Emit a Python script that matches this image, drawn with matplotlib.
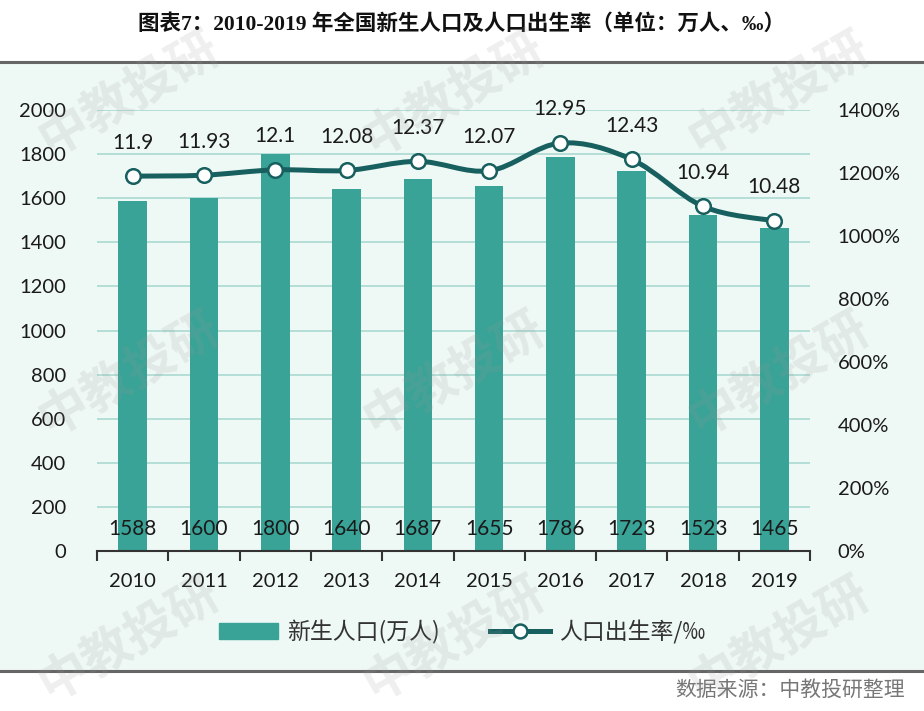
import matplotlib
matplotlib.use("Agg")
from matplotlib import pyplot as plt
from matplotlib import patches
from matplotlib.path import Path
from matplotlib.ticker import FuncFormatter, FixedLocator
import numpy as np

years = ["2010", "2011", "2012", "2013", "2014", "2015", "2016", "2017", "2018", "2019"]
births = [1588, 1600, 1800, 1640, 1687, 1655, 1786, 1723, 1523, 1465]
birth_rate = [11.9, 11.93, 12.1, 12.08, 12.37, 12.07, 12.95, 12.43, 10.94, 10.48]
rate_labels = ["11.9", "11.93", "12.1", "12.08", "12.37", "12.07", "12.95", "12.43", "10.94", "10.48"]

BAR = "#38a396"
LINE = "#17605f"
GRID = "#a9d9d1"
BG = "#eef8f4"
TXT = "#1a1a1a"
NUM = ["Lato", "Noto Sans CJK SC", "DejaVu Sans"]
CJK = ["Noto Sans CJK SC", "DejaVu Sans"]


def smooth_path(xs, ys):
    # catmull-rom style bezier through the points (like excel's smoothed line)
    pts = list(zip(xs, ys))
    verts = [pts[0]]
    codes = [Path.MOVETO]
    n = len(pts)
    for i in range(n - 1):
        p0 = pts[i - 1] if i > 0 else pts[i]
        p1 = pts[i]
        p2 = pts[i + 1]
        p3 = pts[i + 2] if i + 2 < n else pts[i + 1]
        c1 = (p1[0] + (p2[0] - p0[0]) / 6, p1[1] + (p2[1] - p0[1]) / 6)
        c2 = (p2[0] - (p3[0] - p1[0]) / 6, p2[1] - (p3[1] - p1[1]) / 6)
        verts += [c1, c2, p2]
        codes += [Path.CURVE4] * 3
    return Path(verts, codes)


fig = plt.figure(figsize=(9.24, 7.11), dpi=100)
fig.patch.set_facecolor("white")

# panel behind the chart
panel = patches.Rectangle((0, 40 / 711), 1, 609 / 711, transform=fig.transFigure,
                          facecolor=BG, edgecolor="none", zorder=-10)
fig.patches.append(panel)
for yy in (40 / 711, 649 / 711):
    fig.add_artist(plt.Line2D([0, 1], [yy, yy], transform=fig.transFigure,
                              color="#666666", lw=2.2))

fig.text(0.5, 1 - 24 / 711, "图表7：2010-2019 年全国新生人口及人口出生率（单位：万人、‰）",
         ha="center", va="center", fontsize=15.5, fontweight="heavy",
         family=["Liberation Serif", "Noto Sans CJK SC"], color="#111111")

ax = fig.add_axes([97 / 924, 160 / 711, 713 / 924, 441 / 711])
ax.set_facecolor("none")
x = np.arange(len(years))
ax.bar(x, births, width=0.4, color=BAR, zorder=2, label="新生人口(万人)")
ax.set_ylim(0, 2000)
ax.set_xlim(-0.5, len(years) - 0.5)
ax.set_yticks(range(0, 2001, 200))
ax.yaxis.grid(True, color=GRID, lw=1.2, zorder=0)
ax.set_axisbelow(True)
for s in ("left", "right", "top"):
    ax.spines[s].set_visible(False)
ax.spines["bottom"].set_color("#333333")
ax.spines["bottom"].set_linewidth(1.5)
ax.tick_params(axis="y", length=0, pad=22, labelsize=14.5, labelcolor=TXT)
ax.set_xticks(x)
ax.set_xticklabels(years)
ax.tick_params(axis="x", length=0, pad=16, labelsize=14.5, labelcolor=TXT)
ax.xaxis.set_minor_locator(FixedLocator(np.arange(-0.5, len(years), 1)))
ax.tick_params(axis="x", which="minor", length=7, width=1.5, color="#333333", direction="out")
for lab in ax.get_xticklabels() + ax.get_yticklabels():
    lab.set_family(NUM)

for xi, v in zip(x, births):
    ax.text(xi, 100, str(v), ha="center", va="center", fontsize=15, color=TXT,
            family=NUM, zorder=5)

ax2 = ax.twinx()
ax2.set_ylim(0, 14)
ax2.set_yticks(range(0, 15, 2))
ax2.yaxis.set_major_formatter(FuncFormatter(lambda v, p: f"{int(v * 100)}%"))
for s in ax2.spines.values():
    s.set_visible(False)
ax2.tick_params(axis="y", length=0, pad=20, labelsize=14.5, labelcolor=TXT)
for lab in ax2.get_yticklabels():
    lab.set_family(NUM)

curve = patches.PathPatch(smooth_path(x, birth_rate), facecolor="none", edgecolor=LINE,
                          lw=3.6, zorder=3, capstyle="round")
ax2.add_patch(curve)
ax2.plot(x, birth_rate, ls="none", marker="o", ms=10.5, mfc="white", mec=LINE, mew=1.8,
         zorder=4)
for xi, v, t in zip(x, birth_rate, rate_labels):
    ax2.annotate(t, (xi, v), xytext=(0, 17), textcoords="offset points", ha="center",
                 va="bottom", fontsize=15, color=TXT, family=NUM)

# legend
h1 = patches.Patch(color=BAR, label="新生人口(万人)")
h2 = plt.Line2D([], [], color=LINE, lw=3.6, marker="o", ms=10, mfc="white", mec=LINE,
                mew=1.8, label="人口出生率/‰")
leg = fig.legend(handles=[h1, h2], loc="center", bbox_to_anchor=(0.5, 1 - 632 / 711),
                 ncol=2, frameon=False, handlelength=2.6, handletextpad=0.4,
                 columnspacing=2.2, prop={"family": CJK, "size": 16.5, "weight": "light"})
for t in leg.get_texts():
    t.set_color("#333333")

fig.text(905 / 924, 1 - 690 / 711, "数据来源：中教投研整理", ha="right", va="center",
         fontsize=15, color="#777777", family=CJK)

# watermarks
for wx in (130, 455, 780):
    for wy in (95, 375, 640):
        fig.text(wx / 924, 1 - wy / 711, "中教投研", ha="center", va="center",
                 fontsize=36, rotation=30, color="#9a9a9a", alpha=0.16,
                 family=CJK, fontweight="bold", zorder=20)

fig.savefig("out.png", dpi=100, facecolor=fig.get_facecolor())
